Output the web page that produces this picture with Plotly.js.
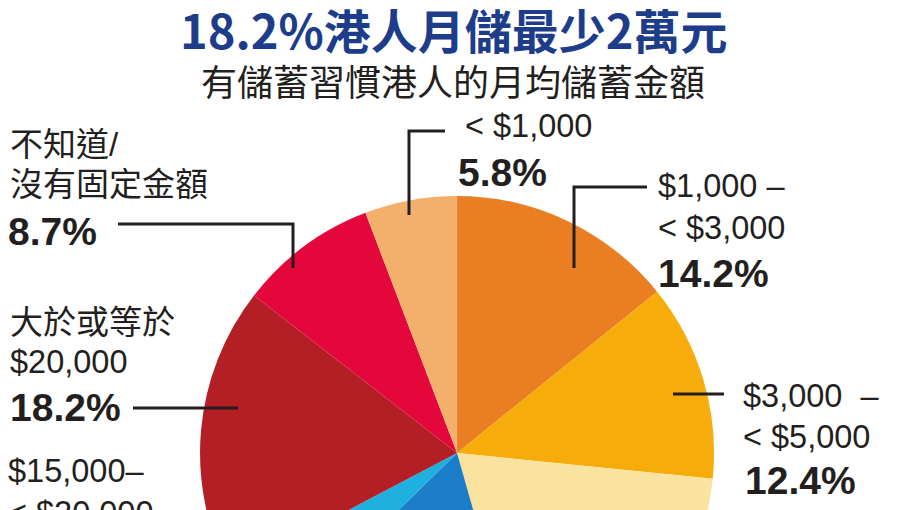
<!DOCTYPE html>
<html>
<head>
<meta charset="utf-8">
<script src="https://cdn.plot.ly/plotly-3.0.1.min.js"></script>
<style>
html, body { margin: 0; padding: 0; background: #fff; overflow: hidden; }
#wrap { width: 907px; height: 510px; overflow: hidden; position: relative; }
#chart { width: 907px; height: 720px; }
</style>
</head>
<body>
<div id="wrap"><div id="chart"></div></div>
<script>
// data, clockwise from 12 o'clock
const categories = ['$1,000 – < $3,000', '$3,000 – < $5,000', '$5,000 – < $10,000', '$10,000 – < $15,000',
    '$15,000– < $20,000', '大於或等於 $20,000', '不知道/ 沒有固定金額', '< $1,000'];
const shares = [14.2, 12.4, 19.0, 17.1, 4.6, 18.2, 8.7, 5.8];
const labelLines = [
    ['$1,000 –', '< $3,000'],
    ['$3,000  –', '< $5,000'],
    ['$5,000 –', '< $10,000'],
    ['$10,000 –', '< $15,000'],
    ['$15,000–', '< $20,000'],
    ['大於或等於', '$20,000'],
    ['不知道/', '沒有固定金額'],
    ['< $1,000']
];
const sliceColors = ['#EA7E22', '#F6AD0C', '#FAE39E', '#1C7DC8', '#1FB0E0', '#B31F25', '#E3073C', '#F3AF6C'];

const titleText = '18.2%港人月儲最少2萬元';
const subtitleText = '有儲蓄習慣港人的月均儲蓄金額';

const W = 907, H = 720;
const ink = '#231F20';
const fam = 'Liberation Sans, Arial, Noto Sans CJK TC, sans-serif';

function px(x) { return x / W; }
function py(y) { return 1 - y / H; }

function note(text, x, y, size, opts) {
    opts = opts || {};
    return {
        xref: 'paper', yref: 'paper',
        x: px(x), y: py(y),
        xanchor: opts.anchor || 'left', yanchor: 'middle',
        text: text, showarrow: false,
        font: { size: size, color: opts.color || ink, family: opts.family || fam }
    };
}

function pct(i) { return '<b>' + shares[i].toFixed(1) + '%</b>'; }

// where each visible label block sits (left x, centre y of each line)
const labelSpots = [
    { i: 0, x: 656, ys: [186, 228], py: 273 },
    { i: 1, x: 741, ys: [396, 437], py: 480, px: 743 },
    { i: 4, x: 6, ys: [471, 513] },
    { i: 5, x: 8, ys: [322, 362], py: 407 },
    { i: 6, x: 8, ys: [145, 185], py: 232, px: 6 },
    { i: 7, x: 463, ys: [126], py: 172, px: 456 }
];

var annotations = [
    note('<b>' + titleText + '</b>', 453, 29, 47, { anchor: 'center', color: '#1D3D8B', family: 'Liberation Sans Narrow, Noto Sans CJK TC, sans-serif' }),
    note(subtitleText, 453, 80, 36, { anchor: 'center', family: 'Noto Sans CJK TC, sans-serif' })
];

labelSpots.forEach(function (s) {
    labelLines[s.i].forEach(function (t, k) {
        var cjk = /[\u4e00-\u9fff]/.test(t);
        annotations.push(note(t, s.x, s.ys[k], cjk ? 33 : 32.5));
    });
    if (s.py) annotations.push(note(pct(s.i), s.px || s.x, s.py, 39));
});

function leader(pts) {
    var d = pts.map(function (p, k) { return (k ? 'L' : 'M') + px(p[0]) + ',' + py(p[1]); }).join(' ');
    return { type: 'path', xref: 'paper', yref: 'paper', path: d, line: { color: ink, width: 3 } };
}

var shapes = [
    leader([[409, 215], [409, 131], [445, 131]]),
    leader([[574, 268], [574, 187], [647, 187]]),
    leader([[118, 224], [293, 224], [293, 268]]),
    leader([[133, 408], [238, 408]]),
    leader([[673, 394], [724, 394]])
];

var trace = {
    type: 'pie',
    labels: categories,
    values: shares,
    sort: false,
    direction: 'clockwise',
    rotation: 0,
    textinfo: 'none',
    hoverinfo: 'none',
    marker: { colors: sliceColors, line: { width: 0 } },
    domain: { x: [0.2039, 0.8039], y: [0.0139, 0.7278] }
};

var layout = {
    width: W, height: H,
    margin: { l: 0, r: 0, t: 0, b: 0 },
    paper_bgcolor: '#fff',
    showlegend: false,
    annotations: annotations,
    shapes: shapes
};

Plotly.newPlot('chart', [trace], layout, { displayModeBar: false, staticPlot: true });
</script>
</body>
</html>
